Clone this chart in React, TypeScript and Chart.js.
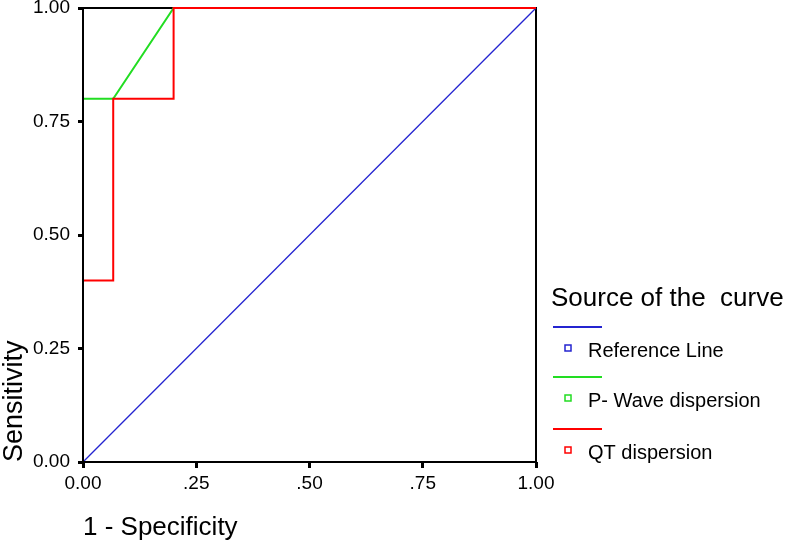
import React, { useEffect, useRef } from "react";
import { Chart, registerables } from "chart.js";

Chart.register(...registerables);

const xTickValues = [0, 0.25, 0.5, 0.75, 1];
const xTickLabels = ["0.00", ".25", ".50", ".75", "1.00"];
const yTickValues = [0, 0.25, 0.5, 0.75, 1];
const yTickLabels = ["0.00", "0.25", "0.50", "0.75", "1.00"];

const seriesNames = ["Reference Line", "P- Wave dispersion", "QT dispersion"];
const seriesColors = ["#2424d0", "#22dd22", "#ff0000"];

const refX = [0, 1];
const refY = [0, 1];
const pwaveX = [0, 0, 0.0667, 0.2, 1];
const pwaveY = [0, 0.8, 0.8, 1, 1];
const qtX = [0, 0, 0.0667, 0.0667, 0.2, 0.2, 1];
const qtY = [0, 0.4, 0.4, 0.8, 0.8, 1, 1];

const legendTitle = "Source of the  curve";
const xTitle = "1 - Specificity";
const yTitle = "Sensitivity";

const FONT = "'Liberation Sans', Arial, sans-serif";

const toPoints = (xs: number[], ys: number[]) => xs.map((x, i) => ({ x, y: ys[i] }));

const framePlugin = {
  id: "frame",
  beforeDatasetsDraw(chart: any) {
    const { ctx, chartArea: a } = chart;
    ctx.save();
    ctx.strokeStyle = "#000";
    ctx.lineWidth = 2;
    ctx.beginPath();
    ctx.moveTo(a.left, a.top);
    ctx.lineTo(a.right, a.top);
    ctx.lineTo(a.right, a.bottom);
    ctx.stroke();
    ctx.restore();
  },
  afterDatasetsDraw(chart: any) {
    const { ctx, chartArea: a } = chart;
    ctx.save();
    ctx.strokeStyle = "#000";
    ctx.lineWidth = 2;
    ctx.beginPath();
    ctx.moveTo(a.left, a.top);
    ctx.lineTo(a.left, a.bottom);
    ctx.lineTo(a.right, a.bottom);
    ctx.stroke();
    ctx.restore();
  },
};

const legendPlugin = {
  id: "customLegend",
  afterDraw(chart: any) {
    const { ctx } = chart;
    ctx.save();
    ctx.fillStyle = "#000";
    ctx.textBaseline = "middle";
    ctx.textAlign = "left";
    ctx.font = `26px ${FONT}`;
    ctx.fillText(legendTitle, 551, 299);
    const lineYs = [327, 377, 429];
    const itemYs = [348, 398, 450];
    chart.data.datasets.forEach((ds: any, i: number) => {
      ctx.strokeStyle = ds.borderColor;
      ctx.lineWidth = 2;
      ctx.beginPath();
      ctx.moveTo(553, lineYs[i]);
      ctx.lineTo(602, lineYs[i]);
      ctx.stroke();
      ctx.lineWidth = 1.5;
      ctx.strokeRect(565, itemYs[i] - 3, 6, 6);
      ctx.fillStyle = "#000";
      ctx.font = `20px ${FONT}`;
      ctx.fillText(ds.label, 588, itemYs[i] + 3);
    });
    ctx.restore();
  },
};

export default function App() {
  const ref = useRef<HTMLCanvasElement | null>(null);
  useEffect(() => {
    if (!ref.current) return;
    const chart = new Chart(ref.current, {
      type: "scatter",
      data: {
        datasets: [
          { label: seriesNames[0], data: toPoints(refX, refY), borderColor: seriesColors[0], borderWidth: 1.3, order: 2 },
          { label: seriesNames[1], data: toPoints(pwaveX, pwaveY), borderColor: seriesColors[1], borderWidth: 2, order: 1 },
          { label: seriesNames[2], data: toPoints(qtX, qtY), borderColor: seriesColors[2], borderWidth: 2, order: 0 },
        ].map((d) => ({ ...d, showLine: true, pointRadius: 0, backgroundColor: d.borderColor, clip: false as any, tension: 0 })),
      },
      options: {
        animation: false,
        responsive: false,
        maintainAspectRatio: false,
        layout: { padding: { left: 0, top: 8, right: 251, bottom: 0 } },
        plugins: { legend: { display: false }, tooltip: { enabled: false } },
        scales: {
          x: {
            type: "linear",
            min: 0,
            max: 1,
            afterBuildTicks: (s: any) => {
              s.ticks = xTickValues.map((v) => ({ value: v }));
            },
            afterFit: (s: any) => {
              s.height = 81;
              s.paddingLeft = 0;
              s.paddingRight = 0;
            },
            ticks: {
              color: "#000",
              font: { family: FONT, size: 19 },
              padding: 4,
              maxRotation: 0,
              callback: (v: any) => xTickLabels[xTickValues.indexOf(Number(v))] ?? "",
            },
            grid: { display: true, drawOnChartArea: false, drawTicks: true, tickLength: 6, tickWidth: 3, tickColor: "#000" },
            border: { display: false },
            title: { display: true, text: xTitle, align: "start", color: "#000", font: { family: FONT, size: 26 }, padding: { top: 0, bottom: 0 } },
          },
          y: {
            type: "linear",
            min: 0,
            max: 1,
            afterBuildTicks: (s: any) => {
              s.ticks = yTickValues.map((v) => ({ value: v }));
            },
            afterFit: (s: any) => {
              s.width = 83;
              s.paddingTop = 0;
              s.paddingBottom = 0;
            },
            ticks: {
              color: "#000",
              font: { family: FONT, size: 19 },
              padding: 8,
              callback: (v: any) => yTickLabels[yTickValues.indexOf(Number(v))] ?? "",
            },
            grid: { display: true, drawOnChartArea: false, drawTicks: true, tickLength: 5, tickWidth: 3, tickColor: "#000" },
            border: { display: false },
            title: { display: true, text: yTitle, align: "start", color: "#000", font: { family: FONT, size: 27, lineHeight: 1.1 }, padding: { top: 0, bottom: 0 } },
          },
        },
      } as any,
      plugins: [framePlugin, legendPlugin],
    });
    return () => chart.destroy();
  }, []);
  return (
    <div style={{ position: "absolute", left: 0, top: 0, width: 787, height: 543, background: "#fff" }}>
      <canvas ref={ref} width={787} height={543} />
    </div>
  );
}
